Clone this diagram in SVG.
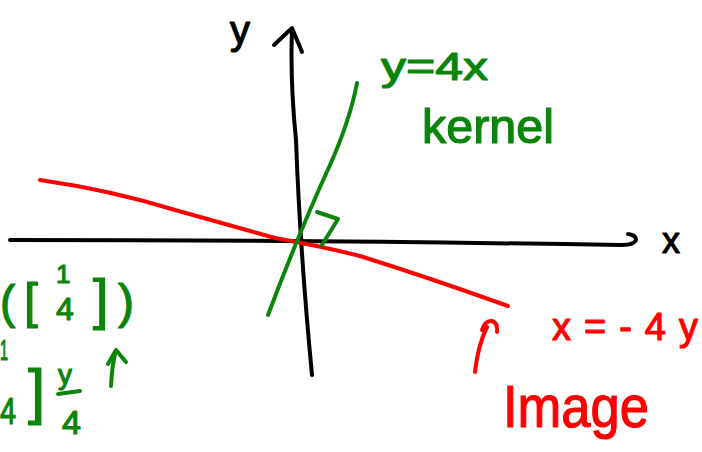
<svg xmlns="http://www.w3.org/2000/svg" width="702" height="452" viewBox="0 0 702 452">
<style>
.ln{fill:none;stroke-linecap:round;stroke-linejoin:round;stroke-width:4}
.k{stroke:#000}
.r{stroke:#ff0000}
.g{stroke:#0a850a}
.t{font-family:"Liberation Sans","DejaVu Sans",sans-serif;stroke-width:1.2;stroke-linejoin:round}
.tk{fill:#000;stroke:#000}
.tr{fill:#ff0000;stroke:#ff0000}
.tg{fill:#0a850a;stroke:#0a850a}
</style>
<rect width="702" height="452" fill="#fff"/>
<g id="axes">
<path class="ln k" d="M10 240 Q 300 240 622 245 Q 634 245 636 240 Q 636 235 628 234"/>
<path class="ln k" d="M312 375 Q 300 250 296 140 Q 290 80 292 30"/>
<path class="ln k" d="M274 45 L 292 28 L 302 52"/>
<text class="t tk" x="230" y="44" font-size="40">y</text>
<text class="t tk" x="662" y="253" font-size="36">x</text>
</g>
<g id="image-line">
<path class="ln r" d="M40 180 Q 110 190 175 210 Q 240 228 275 238 Q 320 246 360 256 Q 430 278 508 306"/>
<path class="ln r" d="M475 372 Q 478 345 487 327 M482 330 Q 485 320 492 321 Q 498 323 497 332"/>
<text class="t tr" x="552" y="340" font-size="38" textLength="146" lengthAdjust="spacing">x=-4y</text>
<text class="t tr" x="503" y="427" font-size="60" textLength="146" lengthAdjust="spacingAndGlyphs">Image</text>
</g>
<g id="kernel-line">
<path class="ln g" d="M268 315 Q 300 230 330 165 Q 350 120 357 83"/>
<path class="ln g" d="M317 212 L 338 219 L 322 245"/>
<text class="t tg" x="381" y="80" font-size="38" textLength="107" lengthAdjust="spacingAndGlyphs">y=4x</text>
<text class="t tg" x="422" y="143" font-size="48" textLength="132" lengthAdjust="spacingAndGlyphs">kernel</text>
</g>
<g id="formula">
<text class="t tg" x="0" y="318" font-size="46">(</text>
<text class="t tg" x="24" y="318" font-size="50">[</text>
<text class="t tg" x="56" y="283" font-size="26">1</text>
<text class="t tg" x="56" y="320" font-size="32">4</text>
<text class="t tg" x="93" y="318" font-size="56">]</text>
<text class="t tg" x="118" y="318" font-size="48">)</text>
<text class="t tg" x="0" y="360" font-size="30" textLength="8" lengthAdjust="spacingAndGlyphs">1</text>
<text class="t tg" x="0" y="424" font-size="36" textLength="16" lengthAdjust="spacingAndGlyphs">4</text>
<text class="t tg" x="28" y="412" font-size="62">]</text>
<text class="t tg" x="58" y="384" font-size="28">y</text>
<path class="ln g" d="M58 394 L 80 391"/>
<text class="t tg" x="62" y="434" font-size="34">4</text>
<path class="ln g" d="M111 386 Q 112 365 116 350 M108 364 L 116 350 L 126 362"/>
</g>
</svg>
